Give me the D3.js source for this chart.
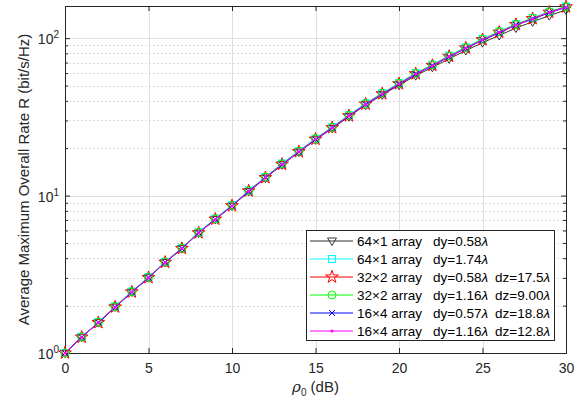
<!DOCTYPE html>
<html>
<head>
<meta charset="utf-8">
<script src="https://cdn.jsdelivr.net/npm/d3@7/dist/d3.min.js"></script>
<style>
  body { margin: 0; background: #fff; }
  svg { font-family: "Liberation Sans", Arial, Helvetica, sans-serif; }
</style>
</head>
<body>
<div id="chart"></div>
<script>

// SNR in dB
var rho = d3.range(0, 31);

// average maximum overall rate R (bit/s/Hz)
var r64x1a = [1.00, 1.26, 1.56, 1.96, 2.44, 3.01, 3.76, 4.60, 5.78, 7.05, 8.58, 10.6, 12.9, 15.7, 18.9, 22.6, 26.7, 31.7, 37.6, 43.6, 50.2, 57.8, 65.2, 73.9, 83.4, 93.6, 104, 116, 127, 139, 151];
var r64x1b = [1.00, 1.27, 1.57, 1.98, 2.46, 3.04, 3.80, 4.66, 5.86, 7.15, 8.70, 10.8, 13.1, 16.0, 19.2, 23.0, 27.3, 32.4, 38.5, 44.8, 51.8, 60.0, 67.8, 77.4, 87.5, 98.8, 110, 123, 134, 147, 159];
var r32x2a = [1.00, 1.26, 1.56, 1.96, 2.44, 3.01, 3.77, 4.61, 5.80, 7.08, 8.61, 10.7, 13.0, 15.8, 19.0, 22.8, 27.0, 32.1, 38.1, 44.3, 51.3, 59.4, 67.1, 76.6, 86.6, 97.8, 109, 122, 133, 146, 158];
var r32x2b = [1.00, 1.26, 1.57, 1.97, 2.45, 3.02, 3.78, 4.63, 5.82, 7.10, 8.64, 10.7, 13.1, 15.9, 19.1, 22.9, 27.1, 32.3, 38.3, 44.6, 51.6, 59.7, 67.5, 77.0, 87.1, 98.3, 110, 122, 134, 147, 158];
var r16x4a = [1.00, 1.26, 1.56, 1.95, 2.43, 3.00, 3.76, 4.60, 5.79, 7.06, 8.59, 10.6, 13.0, 15.7, 18.9, 22.7, 26.9, 32.0, 37.9, 44.1, 51.0, 59.0, 66.7, 76.1, 86.0, 97.1, 108, 121, 132, 145, 157];
var r16x4b = [1.00, 1.26, 1.56, 1.96, 2.44, 3.01, 3.77, 4.61, 5.80, 7.07, 8.60, 10.7, 13.0, 15.8, 19.0, 22.8, 27.0, 32.1, 38.0, 44.2, 51.2, 59.2, 66.9, 76.4, 86.3, 97.5, 109, 121, 133, 146, 157];

var seriesNames = ["64\u00d71 array", "64\u00d71 array", "32\u00d72 array", "32\u00d72 array", "16\u00d74 array", "16\u00d74 array"];
var seriesDy = ["dy=0.58", "dy=1.74", "dy=0.58", "dy=1.16", "dy=0.57", "dy=1.16"];
var seriesDz = ["", "", "dz=17.5", "dz=9.00", "dz=18.8", "dz=12.8"];
var seriesValues = [r64x1a, r64x1b, r32x2a, r32x2b, r16x4a, r16x4b];
var seriesColors = ["#333333", "#00ffff", "#ff0000", "#00ff00", "#0000ff", "#ff00ff"];
var seriesMarkers = ["triangle", "square", "star", "circle", "cross", "dot"];

var xTicks = [0, 5, 10, 15, 20, 25, 30];
var yMajor = [1, 10, 100];
var yMinor = [2, 3, 4, 5, 6, 7, 8, 9, 20, 30, 40, 50, 60, 70, 80, 90];

var W = 583, H = 406;
var margin = {left: 65, right: 17, top: 6, bottom: 53};
var iw = W - margin.left - margin.right,
    ih = H - margin.top - margin.bottom;

var x = d3.scaleLinear().domain([0, 30]).range([0, iw]);
var y = d3.scaleLog().domain([1, 160]).range([ih, 0]);

var svg = d3.select("#chart").append("svg")
  .attr("width", W)
  .attr("height", H);

var g = svg.append("g")
  .attr("transform", "translate(" + margin.left + "," + margin.top + ")");

// grid
g.append("g").selectAll("line")
  .data(yMinor)
  .enter().append("line")
  .attr("x1", 0).attr("x2", iw)
  .attr("y1", function(d) { return Math.round(y(d)) + 0.5; })
  .attr("y2", function(d) { return Math.round(y(d)) + 0.5; })
  .attr("stroke", "#dcdcdc")
  .attr("stroke-dasharray", "2,2");

g.append("g").selectAll("line")
  .data(yMajor)
  .enter().append("line")
  .attr("x1", 0).attr("x2", iw)
  .attr("y1", function(d) { return Math.round(y(d)) + 0.5; })
  .attr("y2", function(d) { return Math.round(y(d)) + 0.5; })
  .attr("stroke", "#e0e0e0");

g.append("g").selectAll("line")
  .data(xTicks)
  .enter().append("line")
  .attr("x1", function(d) { return Math.round(x(d)) + 0.5; })
  .attr("x2", function(d) { return Math.round(x(d)) + 0.5; })
  .attr("y1", 0).attr("y2", ih)
  .attr("stroke", "#e0e0e0");

// axes (ticks inward, on all four sides)
var axB = g.append("g").attr("transform", "translate(0," + ih + ")")
  .call(d3.axisBottom(x).tickValues(xTicks).tickSize(-5).tickPadding(10).tickFormat(d3.format("d")));
g.append("g")
  .call(d3.axisTop(x).tickValues(xTicks).tickSize(-5).tickFormat(""));
g.append("g")
  .call(d3.axisLeft(y).tickValues(yMajor).tickSize(-5).tickFormat(""));
g.append("g").attr("transform", "translate(" + iw + ",0)")
  .call(d3.axisRight(y).tickValues(yMajor).tickSize(-5).tickFormat(""));
g.append("g").call(d3.axisLeft(y).tickValues(yMinor).tickSize(-3).tickFormat(""));
g.append("g").attr("transform", "translate(" + iw + ",0)")
  .call(d3.axisRight(y).tickValues(yMinor).tickSize(-3).tickFormat(""));

g.selectAll(".domain").remove();
g.selectAll(".tick line").attr("stroke", "#262626");
axB.selectAll("text").attr("font-size", 14).attr("fill", "#262626")
  .attr("font-family", "Liberation Sans, Arial, sans-serif");

g.append("rect")
  .attr("x", 0.5).attr("y", 0.5)
  .attr("width", iw).attr("height", ih)
  .attr("fill", "none")
  .attr("stroke", "#262626");

// y tick labels 10^n
var yl = g.append("g").selectAll("text")
  .data(yMajor)
  .enter().append("text")
  .attr("x", -6)
  .attr("y", function(d) { return y(d) + 6; })
  .attr("text-anchor", "end")
  .attr("font-size", 14)
  .attr("fill", "#262626");
yl.append("tspan").text("10");
yl.append("tspan")
  .attr("font-size", 10)
  .attr("dy", -6)
  .text(function(d) { return Math.round(Math.log10(d)); });

// axis labels
svg.append("text")
  .attr("transform", "translate(29," + (margin.top + ih / 2) + ") rotate(-90)")
  .attr("text-anchor", "middle")
  .attr("font-size", 15)
  .attr("fill", "#262626")
  .text("Average Maximum Overall Rate R (bit/s/Hz)");

var xl = svg.append("text")
  .attr("x", margin.left + iw / 2)
  .attr("y", 392)
  .attr("text-anchor", "middle")
  .attr("font-size", 15)
  .attr("fill", "#262626");
xl.append("tspan").attr("font-family", "DejaVu Serif, serif").attr("font-style", "italic").text("\u03c1");
xl.append("tspan").attr("font-size", 10).attr("dy", 4).text("0");
xl.append("tspan").attr("dy", -4).text(" (dB)");

// markers
var star = d3.symbol().type(d3.symbolStar).size(50)();
var tri = "M-4.5,-3L4.5,-3L0,4.5Z";

function drawMarker(sel, kind, color) {
  if (kind === "triangle") {
    sel.append("path").attr("d", tri).attr("fill", "none").attr("stroke", color);
  } else if (kind === "square") {
    sel.append("rect").attr("x", -3.5).attr("y", -3.5).attr("width", 7).attr("height", 7)
      .attr("fill", "none").attr("stroke", color);
  } else if (kind === "star") {
    sel.append("path").attr("d", star).attr("fill", "none").attr("stroke", color);
  } else if (kind === "circle") {
    sel.append("circle").attr("r", 4).attr("fill", "none").attr("stroke", color);
  } else if (kind === "cross") {
    sel.append("path").attr("d", "M-3,-3L3,3M-3,3L3,-3").attr("stroke", color);
  } else {
    sel.append("circle").attr("r", 1.5).attr("fill", color);
  }
}

var line = d3.line()
  .x(function(d, i) { return x(rho[i]); })
  .y(function(d) { return y(d); });

seriesValues.forEach(function(vals, k) {
  var sg = g.append("g");
  sg.append("path")
    .datum(vals)
    .attr("d", line)
    .attr("fill", "none")
    .attr("stroke", seriesColors[k])
    .attr("stroke-width", 1);
  sg.selectAll("g")
    .data(vals)
    .enter().append("g")
    .attr("transform", function(d, i) { return "translate(" + x(rho[i]) + "," + y(d) + ")"; })
    .each(function() { drawMarker(d3.select(this), seriesMarkers[k], seriesColors[k]); });
});

// legend
var lg = svg.append("g").attr("transform", "translate(306,230)");
lg.append("rect")
  .attr("x", 0.5).attr("y", 0.5)
  .attr("width", 248).attr("height", 110)
  .attr("fill", "#fff")
  .attr("stroke", "#262626");

seriesNames.forEach(function(name, k) {
  var row = lg.append("g").attr("transform", "translate(0," + (11 + k * 18) + ")");
  row.append("line").attr("x1", 4).attr("x2", 47).attr("y1", 0).attr("y2", 0)
    .attr("stroke", seriesColors[k]);
  drawMarker(row.append("g").attr("transform", "translate(26,0)"), seriesMarkers[k], seriesColors[k]);
  var t = row.append("text").attr("y", 5).attr("font-size", 13.5).attr("fill", "#000");
  t.append("tspan").attr("x", 51).text(name);
  t.append("tspan").attr("x", 127).text(seriesDy[k]);
  t.append("tspan").attr("font-style", "italic").text("\u03bb");
  if (seriesDz[k]) {
    var t2 = row.append("text").attr("y", 5).attr("font-size", 13.5).attr("fill", "#000");
    t2.append("tspan").attr("x", 189).text(seriesDz[k]);
    t2.append("tspan").attr("font-style", "italic").text("\u03bb");
  }
});

</script>
</body>
</html>
